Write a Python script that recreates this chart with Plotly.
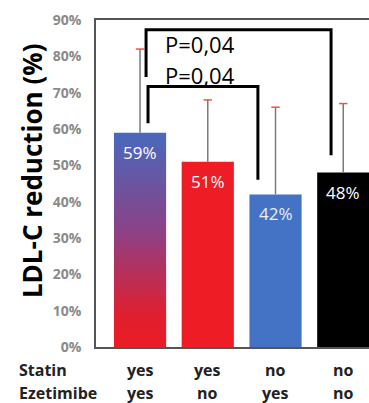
import plotly.graph_objects as go

# LDL-C reduction by treatment group
statin = ["yes", "yes", "no", "no"]
ezetimibe = ["yes", "no", "yes", "no"]
reduction = [59, 51, 42, 48]          # mean reduction, %
err_up = [23, 17, 24, 19]             # upper error, %
bar_colors = ["rgba(0,0,0,0)", "#ee1c25", "#4472c4", "#000000"]
p_labels = ["P=0,04", "P=0,04"]
y_ticks = [0, 10, 20, 30, 40, 50, 60, 70, 80, 90]

x = list(range(len(reduction)))
bar_w = 0.77
font = "Open Sans"
err_color = "#7a7a7a"

fig = go.Figure()

# first group: blue-to-red gradient bar, drawn as a filled polygon
x0 = x[0] - bar_w / 2
x1 = x[0] + bar_w / 2
fig.add_trace(go.Scatter(
    x=[x0, x1, x1, x0, x0],
    y=[0, 0, reduction[0], reduction[0], 0],
    mode="lines", line=dict(width=0),
    fill="toself",
    fillgradient=dict(
        type="vertical",
        colorscale=[[0, "#ec1c24"], [0.15, "#e01f30"], [0.55, "#8a4288"], [1, "#4869bd"]],
    ),
    hoverinfo="skip", showlegend=False,
))

# caps on the upper end of each error bar
fig.add_trace(go.Scatter(
    x=x, y=[v + e for v, e in zip(reduction, err_up)],
    mode="markers",
    marker=dict(symbol="line-ew-open", size=6, line=dict(color=err_color, width=1.5)),
    hoverinfo="skip", showlegend=False,
))

fig.add_trace(go.Bar(
    x=x, y=reduction, width=bar_w,
    marker=dict(color=bar_colors, line=dict(width=0)),
    error_y=dict(type="data", symmetric=False, array=err_up,
                 arrayminus=[0] * len(err_up),
                 color=err_color, thickness=1.5, width=0),
    showlegend=False,
))

annotations = []
label_colors = ["#ffffff", "#ffffff", "#eeeeee", "#ffffff"]
for i, v in enumerate(reduction):
    annotations.append(dict(
        x=x[i], y=v, xref="x", yref="y", text=f"{v}%",
        showarrow=False, yanchor="top", yshift=-6,
        font=dict(family=font, size=17, color=label_colors[i]),
    ))

# significance labels
for txt, yv in zip(p_labels, [83.5, 75.0]):
    annotations.append(dict(
        x=0.34, y=yv, xref="x", yref="y", text=txt, showarrow=False,
        xanchor="left", yanchor="middle",
        font=dict(family=font, size=22, color="#000000"),
    ))

# axis title
annotations.append(dict(
    x=-0.232, y=0.54, xref="paper", yref="paper",
    text="LDL-C reduction (%)", textangle=-90, showarrow=False,
    xanchor="center", yanchor="middle",
    font=dict(family=font, size=26, color="#000000", weight="bold"),
))

# treatment rows under the axis
row_y = [-0.07, -0.141]
for name, vals, yp in zip(["Statin", "Ezetimibe"], [statin, ezetimibe], row_y):
    annotations.append(dict(
        x=-0.29, y=yp, xref="paper", yref="paper", text=name,
        showarrow=False, xanchor="left", yanchor="middle",
        font=dict(family=font, size=16, color="#222222", weight="bold"),
    ))
    for i, val in enumerate(vals):
        annotations.append(dict(
            x=x[i], y=yp, xref="x", yref="paper", text=val,
            showarrow=False, xanchor="center", yanchor="middle",
            font=dict(family=font, size=16, color="#222222", weight="bold"),
        ))

# significance brackets
shapes = [
    dict(type="path", xref="x", yref="y",
         path="M 0.089,74.3 V 87.3 H 2.82 V 52.8",
         line=dict(color="#000000", width=3)),
    dict(type="path", xref="x", yref="y",
         path="M 0.118,61.6 V 71.7 H 1.74 V 46.0",
         line=dict(color="#000000", width=3)),
]

fig.update_layout(
    width=369, height=403,
    margin=dict(l=96, r=0, t=20, b=56),
    paper_bgcolor="white", plot_bgcolor="white",
    annotations=annotations, shapes=shapes,
    xaxis=dict(
        range=[-0.65, 3.38],
        tickmode="array", tickvals=x, showticklabels=False,
        showline=True, linecolor="#555555", linewidth=1.5, mirror=True,
        ticks="", showgrid=False, zeroline=False, fixedrange=True,
    ),
    yaxis=dict(
        range=[0, 90], tickmode="array", tickvals=y_ticks,
        ticktext=[f"{t}%" for t in y_ticks],
        tickfont=dict(family=font, size=14, color="#8a8a8a", weight="bold"),
        showline=True, linecolor="#555555", linewidth=1.5,
        ticks="", showgrid=False, zeroline=False, ticklabelstandoff=10,
    ),
)

fig.write_html("out.html")
